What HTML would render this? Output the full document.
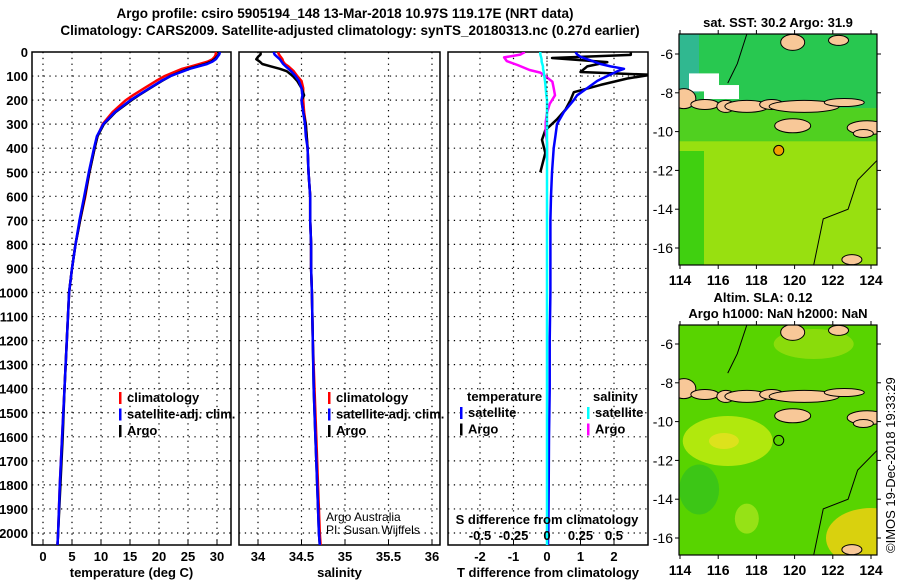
<!DOCTYPE html>
<html><head><meta charset="utf-8"><style>
html,body{margin:0;padding:0;background:#fff;}
svg{display:block;font-family:"Liberation Sans",sans-serif;}
</style></head><body>
<svg id="fig" width="900" height="580" viewBox="0 0 900 580">
<g id="titles" font-size="13.5" text-anchor="middle" font-weight="bold">
<text x="345" y="18">Argo profile: csiro 5905194_148 13-Mar-2018 10.97S 119.17E (NRT data)</text>
<text x="350" y="35">Climatology: CARS2009. Satellite-adjusted climatology: synTS_20180313.nc (0.27d earlier)</text>
</g>
<g id="p1"></g>
<g id="p2"></g>
<g id="p3"></g>
<g id="m1"></g>
<g id="m2"></g>
<text x="0" y="0" font-size="13" transform="translate(895,553) rotate(-90)">©IMOS 19-Dec-2018 19:33:29</text>
</svg>
<script>
const NS="http://www.w3.org/2000/svg";
// ---- data ----
const depths=[0,10,20,30,40,50,60,70,80,100,120,150,180,200,250,300,350,400,500,600,700,800,900,1000,1200,1400,1600,1800,2000,2050];
const tempArgo=[30.3,30.3,30.0,29.6,29.0,28.0,26.5,25.0,24.0,22.0,20.5,18.5,16.5,15.3,12.5,10.5,9.4,8.9,8.0,7.2,6.4,5.6,5.0,4.5,4.1,3.7,3.4,3.0,2.6,2.5];
const tempClim=[29.8,29.8,29.6,29.2,28.4,27.0,25.5,24.0,23.0,21.0,19.5,17.5,15.5,14.3,12.0,10.3,9.4,8.9,8.0,7.3,6.4,5.6,5.0,4.5,4.1,3.7,3.3,2.9,2.6,2.5];
const tempSat=[30.5,30.4,30.1,29.8,29.2,28.3,26.8,25.3,24.2,22.0,20.4,18.4,16.4,15.1,12.4,10.4,9.3,8.8,7.9,7.1,6.3,5.6,5.0,4.5,4.1,3.7,3.3,2.9,2.6,2.5];
const salArgo=[34.03,34.03,34.0,33.98,34.02,34.05,34.15,34.25,34.33,34.4,34.45,34.5,34.53,34.5,34.52,34.55,34.56,34.57,34.58,34.6,34.6,34.61,34.61,34.62,34.63,34.64,34.66,34.68,34.7,34.71];
const salClim=[34.23,34.24,34.26,34.28,34.29,34.31,34.35,34.38,34.41,34.45,34.5,34.52,34.52,34.52,34.53,34.55,34.56,34.57,34.58,34.6,34.6,34.61,34.61,34.62,34.63,34.65,34.67,34.69,34.71,34.72];
const salSat=[34.18,34.19,34.22,34.25,34.27,34.29,34.32,34.35,34.38,34.43,34.47,34.5,34.51,34.5,34.52,34.54,34.55,34.57,34.58,34.6,34.6,34.61,34.61,34.62,34.63,34.64,34.66,34.68,34.7,34.71];
const dTSat=[0.85,0.9,1.0,1.2,1.4,1.6,1.9,2.3,2.1,1.8,1.5,1.2,0.9,0.8,0.5,0.3,0.25,0.2,0.15,0.12,0.1,0.1,0.1,0.1,0.08,0.08,0.06,0.05,0.04,0.03];
const dDepthArgo=[0,12,25,42,60,83,95,110,137,167,200,240,280,325,365,420,500];
const dTArgo=[2.5,2.5,0.15,1.8,1.2,1.0,3.1,2.4,1.6,0.8,0.7,0.55,0.3,-0.05,-0.15,-0.05,-0.2];
const dSArgo=[-0.165,-0.2,-0.32,-0.3,-0.22,-0.13,-0.05,-0.015,0.04,0.05,0.06,0.02,0.0,-0.01,-0.01,0.0,0.0];
const dSSat=[-0.05,-0.05,-0.045,-0.04,-0.04,-0.035,-0.03,-0.03,-0.025,-0.02,-0.015,-0.01,-0.005,0,0,0,0,0,0,0,0,0,0,0,0,0,0,0,0,0];
const depthTicks=[0,100,200,300,400,500,600,700,800,900,1000,1100,1200,1300,1400,1500,1600,1700,1800,1900,2000];
const tempTicks=[0,5,10,15,20,25,30];
const salTicks=[34,34.5,35,35.5,36];
const dTTicks=[-2,-1,0,1,2];
const dSTicks=[-0.5,-0.25,0,0.25,0.5];
const lonTicks=[114,116,118,120,122,124];
const latTicks=[-6,-8,-10,-12,-14,-16];
// ---- helpers ----
function el(tag,attrs,parent){const e=document.createElementNS(NS,tag);for(const k in attrs)e.setAttribute(k,attrs[k]);if(parent)parent.appendChild(e);return e;}
function txt(s,x,y,parent,size,anchor,bold){const t=el('text',{x:x,y:y,'font-size':size||13,'text-anchor':anchor||'start'},parent);if(bold!==false)t.setAttribute('font-weight','bold');t.textContent=s;return t;}
const yTop=52,yBot=545;
const yD=d=>yTop+d*0.2405;
function linFn(v0,p0,v1,p1){return v=>p0+(v-v0)*(p1-p0)/(v1-v0);}
let clipN=0;
function panel(g,x0,x1,xs,ticks,tickFmt,label){
  for(const t of ticks){const x=xs(t);el('line',{x1:x,x2:x,y1:yTop,y2:yBot,stroke:'#000','stroke-dasharray':'1.3,4.5','stroke-width':1.2},g);}
  for(const d of depthTicks){if(d===0)continue;const y=yD(d);el('line',{x1:x0,x2:x1,y1:y,y2:y,stroke:'#000','stroke-dasharray':'1.3,4.5','stroke-width':1.2},g);}
  const r=el('rect',{x:x0,y:yTop,width:x1-x0,height:yBot-yTop,fill:'none',stroke:'#000','stroke-width':1.5},g);
  
  for(const t of ticks){const x=xs(t);el('line',{x1:x,x2:x,y1:yBot,y2:yBot-5,stroke:'#000'},g);
    const tt=txt(tickFmt(t),x,561,g,13,'middle');}
  const lt=txt(label,(x0+x1)/2,577,g,13,'middle');
  const id='pc'+(clipN++);
  const defs=el('defs',{},g);const cp=el('clipPath',{id:id},defs);el('rect',{x:x0,y:yTop,width:x1-x0,height:yBot-yTop},cp);
  return el('g',{'clip-path':'url(#'+id+')'},g);
}
function line(g,xs,vals,deps,color,w,name){
  const pts=vals.map((v,i)=>xs(v).toFixed(1)+','+yD(deps[i]).toFixed(1)).join(' ');
  const p=el('polyline',{points:pts,fill:'none',stroke:color,'stroke-width':w||2.5,'stroke-linejoin':'round'},g);
  return p;
}
function legend(g,x,y,items){items.forEach((it,i)=>{const yy=y+i*16.5;el('rect',{x:x,y:yy-10,width:2.5,height:12,fill:it[1]},g);const t=txt(it[0],x+8,yy,g,13);});}
// ---- panel 1 ----
const p1=document.getElementById('p1');
const xT=linFn(0,43,30,217);
const c1=panel(p1,32,231,xT,tempTicks,String,'temperature (deg C)');
for(const d of depthTicks){const t=txt(String(d),28,yD(d)+5,p1,13,'end');}
line(c1,xT,tempClim,depths,'#f00',2.5,'temp-climatology-line');
line(c1,xT,tempArgo,depths,'#000',2.5,'temp-argo-line');
line(c1,xT,tempSat,depths,'#00f',2.5,'temp-satellite-line');
legend(p1,119,402,[['climatology','#f00'],['satellite-adj. clim.','#00f'],['Argo','#000']]);
// ---- panel 2 ----
const p2=document.getElementById('p2');
const xS=linFn(34,258,36,432);
const c2=panel(p2,239,440,xS,salTicks,String,'salinity');
line(c2,xS,salClim,depths,'#f00',2.5,'sal-climatology-line');
line(c2,xS,salArgo,depths,'#000',2.5,'sal-argo-line');
line(c2,xS,salSat,depths,'#00f',2.5,'sal-satellite-line');
legend(p2,328,402,[['climatology','#f00'],['satellite-adj. clim.','#00f'],['Argo','#000']]);
{const a=txt('Argo Australia',326,521,p2,12,'start',false);
 const b=txt('PI: Susan Wijffels',326,534,p2,12,'start',false);}
// ---- panel 3 ----
const p3=document.getElementById('p3');
const xDT=linFn(0,547,2,614);
const xDS=linFn(0,547,0.5,614);
const c3=panel(p3,448,648,xDT,dTTicks,String,'T difference from climatology');
line(c3,xDT,dTArgo,dDepthArgo,'#000',2.5,'dT-argo-line');
line(c3,xDS,dSArgo,dDepthArgo.map(d=>d*0.9),'#f0f',2.5,'dS-argo-line');
line(c3,xDT,dTSat,depths,'#00f',2.5,'dT-satellite-line');
line(c3,xDS,dSSat,depths,'#0ff',2.5,'dS-satellite-line');
el('line',{x1:547,x2:547,y1:yTop,y2:130,stroke:'#000','stroke-dasharray':'1.3,3','stroke-width':1},p3);
{const t=txt('temperature',467,401,p3,13);
 const s=txt('salinity',593,401,p3,13);}
legend(p3,460,417,[['satellite','#00f'],['Argo','#000']]);
legend(p3,587,417,[['satellite','#0ff'],['Argo','#f0f']]);
{const t=txt('S difference from climatology',547,524,p3,13,'middle');}
for(const s of dSTicks){const lbl=(s===0)?'0':(s<0?'-':'')+String(Math.abs(s)).replace(/^0/,'0');const t=txt(lbl,xDS(s),540,p3,13,'middle');}
// ---- maps ----
function map(g,y0,y1,kind){
  const x0=679,x1=877;
  const lon=linFn(114,680,124,871);
  const lat=linFn(-6,y0+(kind===1?20:19),-16,y0+(kind===1?214:213));
  const id='c'+kind;
  const defs=el('defs',{},g);
  const cp=el('clipPath',{id:id},defs);el('rect',{x:x0,y:y0,width:x1-x0,height:y1-y0},cp);
  const c=el('g',{'clip-path':'url(#'+id+')'},g);
  if(kind===1){
    el('rect',{x:x0,y:y0,width:x1-x0,height:y1-y0,fill:'#98e010'},c);
    el('rect',{x:x0,y:y0,width:x1-x0,height:lat(-8.8)-y0,fill:'#28c850'},c);
    el('rect',{x:x0,y:lat(-8.8),width:x1-x0,height:lat(-10.5)-lat(-8.8),fill:'#50d020'},c);
    el('rect',{x:x0,y:lat(-11),width:25,height:y1-lat(-11),fill:'#40d010'},c);
    el('rect',{x:x0,y:y0,width:20,height:lat(-8)-y0,fill:'#30b890'},c);
    el('rect',{x:x0+10,y:lat(-7),width:30,height:18,fill:'#fff'},c);
    el('rect',{x:x0+25,y:lat(-7.6),width:35,height:14,fill:'#fff'},c);
    el('circle',{cx:lon(119.17),cy:lat(-10.97),r:5,fill:'#f0a000',stroke:'#000'},c);
  } else {
    el('rect',{x:x0,y:y0,width:x1-x0,height:y1-y0,fill:'#58d400'},c);
    el('ellipse',{cx:lon(116.5),cy:lat(-11),rx:45,ry:25,fill:'#c8ec10',opacity:0.8},c);
    el('ellipse',{cx:lon(116.3),cy:lat(-11),rx:15,ry:8,fill:'#e8e020',opacity:0.8},c);
    el('ellipse',{cx:lon(115),cy:lat(-13.5),rx:20,ry:25,fill:'#30c020',opacity:0.7},c);
    el('ellipse',{cx:lon(124),cy:lat(-16),rx:45,ry:30,fill:'#e8d010',opacity:0.9},c);
    el('ellipse',{cx:lon(121),cy:lat(-6),rx:40,ry:15,fill:'#a0e010',opacity:0.7},c);
    el('ellipse',{cx:lon(117.5),cy:lat(-15),rx:12,ry:15,fill:'#b0e820',opacity:0.7},c);
    el('circle',{cx:lon(119.17),cy:lat(-10.97),r:5,fill:'none',stroke:'#000'},c);
  }
  const land='#f8c898';
  const isl=[[114.2,-8.3,12,10],[115.3,-8.6,14,5],[116.4,-8.7,9,6],[117.5,-8.7,22,6],[118.8,-8.6,12,5],[120.5,-8.7,35,6],[122.6,-8.5,20,4],[119.9,-9.7,18,7],[123.8,-9.8,20,7],[123.6,-10.1,10,4],[119.9,-5.4,12,8],[122.3,-5.3,10,5],[123,-16.6,10,5]];
  for(const s of isl){const e=el('ellipse',{cx:lon(s[0]),cy:lat(s[1]),rx:s[2],ry:s[3],fill:land,stroke:'#000','stroke-width':1},c);}
  el('path',{d:`M${lon(117.5)},${y0} L${lon(117)},${lat(-6.5)} L${lon(116.5)},${lat(-7.5)} M${lon(121)},${y1} L${lon(121.5)},${lat(-14.5)} L${lon(122.8)},${lat(-14)} L${lon(123.3)},${lat(-12.5)} L${lon(124.3)},${lat(-11.5)}`,fill:'none',stroke:'#000','stroke-width':1},c);
  el('rect',{x:x0,y:y0,width:x1-x0,height:y1-y0,fill:'none',stroke:'#000','stroke-width':1.2},g);
  for(const t of lonTicks){const x=lon(t);el('line',{x1:x,x2:x,y1:y1,y2:y1+4,stroke:'#000'},g);el('line',{x1:x,x2:x,y1:y0,y2:y0-4,stroke:'#000'},g);
    const tt=txt(String(t),x,y1+20,g,14,'middle');}
  for(const t of latTicks){const y=lat(t);el('line',{x1:x0-4,x2:x0,y1:y,y2:y,stroke:'#000'},g);el('line',{x1:x1,x2:x1+4,y1:y,y2:y,stroke:'#000'},g);
    const tt=txt(String(t),x0-6,y+5,g,14,'end',false);}
}
const m1=document.getElementById('m1');
map(m1,34,265,1);
{const t=txt('sat. SST: 30.2 Argo: 31.9',778,27,m1,13,'middle');}
const m2=document.getElementById('m2');
map(m2,325,555,2);
{const t=txt('Altim. SLA: 0.12',763,302,m2,13,'middle');
 const u=txt('Argo h1000: NaN h2000: NaN',778,318,m2,13,'middle');}
</script>
</body></html>
